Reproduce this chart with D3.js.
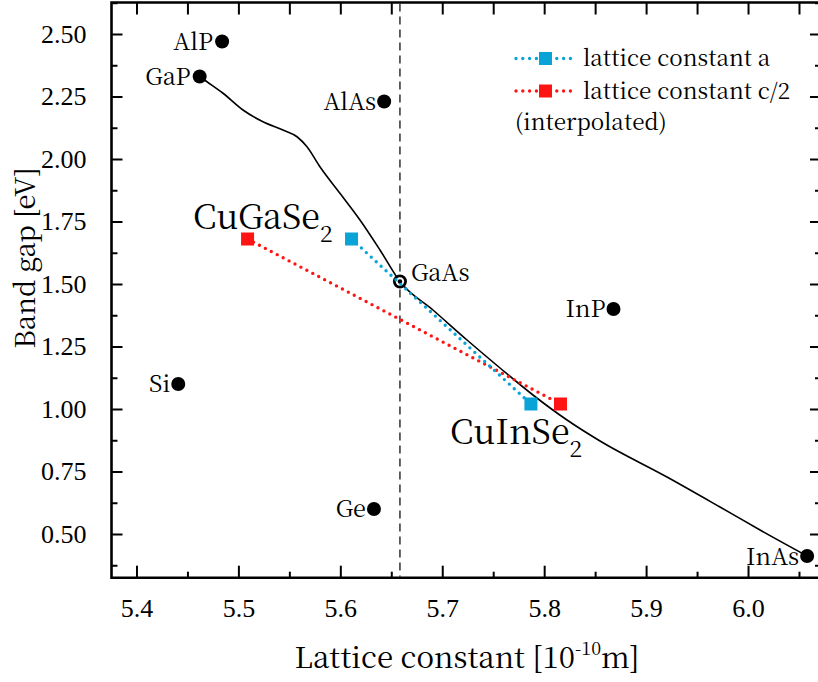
<!DOCTYPE html>
<html><head><meta charset="utf-8">
<script src="https://cdn.jsdelivr.net/npm/d3@7"></script>
</head>
<body style="margin:0;background:#fff"><svg id="chart" width="818" height="682" style="display:block;background:#fff"></svg>
<script>
// ---- data ----
const compounds = ["AlP","GaP","AlAs","GaAs","InP","Si","Ge","InAs"];
const compoundLattice = [5.484,5.462,5.643,5.6585,5.868,5.441,5.633,6.058];
const compoundGap = [2.47,2.33,2.23,1.51,1.40,1.10,0.60,0.412];

const curveLattice = [5.4623,5.4692,5.4849,5.5045,5.5241,5.5437,5.5575,5.5673,5.5800,5.5996,5.6193,5.6389,5.6585,
  5.6909,5.7243,5.7567,5.789,5.8224,5.8548,5.9205,5.9725,6.0118,6.058];
const curveGap = [2.329,2.309,2.263,2.196,2.149,2.116,2.089,2.049,1.969,1.863,1.756,1.636,1.51,
  1.396,1.276,1.164,1.056,0.956,0.872,0.728,0.608,0.516,0.412];

const chalcopyrites = ["CuGaSe","CuInSe"];
const latticeA = [5.611,5.787];
const latticeHalfC = [5.509,5.816];
const chalcoGap = [1.68,1.02];

const xTicks = [5.4,5.5,5.6,5.7,5.8,5.9,6.0];
const yTicks = [0.50,0.75,1.00,1.25,1.50,1.75,2.00,2.25,2.50];
const legendLabels = ["lattice constant a","lattice constant c/2","(interpolated)"];
const gaAsLattice = 5.6585;

// ---- layout ----
const FONT = '"Noto Serif CJK SC","Liberation Serif",serif';
const TICKFONT = '"Liberation Serif","Noto Serif CJK SC",serif';
const svg = d3.select("#chart");
const x = d3.scaleLinear().domain([5.3755,6.0716]).range([111.5,821]);
const y = d3.scaleLinear().domain([0.3252,2.626]).range([577.7,2.5]);
const blue = "#0aa3d8", red = "#ff1414";

const axisW = 2.6;
function styleAxis(g){ g.attr("font-family",null); g.select(".domain").remove(); g.selectAll("line").attr("stroke","#000").attr("stroke-width",2); }

const xMinor = d3.range(5.40,6.0701,0.05).map(v=>+v.toFixed(2)).filter(v=>!xTicks.some(t=>Math.abs(t-v)<1e-6));
const yMinor = d3.range(0.375,2.626,0.25).map(v=>+v.toFixed(3));

// bottom
const gb = svg.append("g").attr("transform",`translate(0,${y.range()[0]})`);
gb.call(d3.axisBottom(x).tickValues(xTicks).tickSize(-12).tickFormat(d3.format(".1f")).tickPadding(21)).call(styleAxis);
gb.append("g").call(d3.axisBottom(x).tickValues(xMinor).tickSize(-6).tickFormat("")).call(styleAxis);
// top
const gt = svg.append("g").attr("transform",`translate(0,${y.range()[1]})`);
gt.call(d3.axisTop(x).tickValues(xTicks.concat(xMinor)).tickSize(-12).tickFormat("")).call(styleAxis);
// left
const gl = svg.append("g").attr("transform",`translate(${x.range()[0]},0)`);
gl.call(d3.axisLeft(y).tickValues(yTicks).tickSize(-11).tickFormat(d3.format(".2f")).tickPadding(25)).call(styleAxis);
gl.append("g").call(d3.axisLeft(y).tickValues(yMinor).tickSize(-6).tickFormat("")).call(styleAxis);
// right
const gr = svg.append("g").attr("transform",`translate(${x.range()[1]},0)`);
gr.call(d3.axisRight(y).tickValues(yTicks).tickSize(-11).tickFormat("")).call(styleAxis);
gr.append("g").call(d3.axisRight(y).tickValues(yMinor).tickSize(-6).tickFormat("")).call(styleAxis);

const [x0,x1] = x.range(), [y0,y1] = y.range();
svg.append("path").attr("d",`M${x1},${y1}H${x0}V${y0}H${x1}V${y1}`).attr("fill","none").attr("stroke","#000").attr("stroke-width",axisW);

// dashed GaAs line
svg.append("line").attr("x1",x(gaAsLattice)).attr("x2",x(gaAsLattice)).attr("y1",y1+1).attr("y2",y0-1)
  .attr("stroke","#222").attr("stroke-width",1.4).attr("stroke-dasharray","8,5");

// curve
svg.append("path").datum(d3.zip(curveLattice,curveGap))
  .attr("d",d3.line().x(d=>x(d[0])).y(d=>y(d[1])).curve(d3.curveMonotoneX))
  .attr("fill","none").attr("stroke","#000").attr("stroke-width",1.6);

// compound dots
compounds.forEach((c,i)=>{
  const cx=x(compoundLattice[i]), cy=y(compoundGap[i]);
  svg.append("circle").attr("cx",cx).attr("cy",cy).attr("r",7).attr("fill","#000");
  if(c==="GaAs"){
    svg.append("circle").attr("cx",cx).attr("cy",cy).attr("r",4.2).attr("fill","#fff");
    svg.append("circle").attr("cx",cx).attr("cy",cy).attr("r",2.3).attr("fill","#000");
  }
});
const labelOff = {AlP:[-9,8],GaP:[-9,8.5],AlAs:[-8,8.5],GaAs:[11,-1],InP:[-8,8],Si:[-8,8],Ge:[-8,8],InAs:[-8,9]};
compounds.forEach((c,i)=>{
  const o = labelOff[c];
  svg.append("text").attr("x",x(compoundLattice[i])+o[0]).attr("y",y(compoundGap[i])+o[1])
    .attr("text-anchor",o[0]<0?"end":"start").attr("font-size",23.5).text(c);
});

// series
const dotted = d3.line().x(d=>x(d[0])).y(d=>y(d[1]));
function series(xs,color){
  const pts = d3.zip(xs,chalcoGap);
  svg.append("path").datum(pts).attr("d",dotted).attr("fill","none").attr("stroke",color)
    .attr("stroke-width",3.4).attr("stroke-linecap","round").attr("stroke-dasharray","0,6.7");
  pts.forEach(p=>svg.append("rect").attr("x",x(p[0])-6.5).attr("y",y(p[1])-6.5).attr("width",13).attr("height",13).attr("fill",color));
}
series(latticeHalfC,red);
series(latticeA,blue);

// big labels
const bigPos = [[193,229],[450,444]];
chalcopyrites.forEach((c,i)=>{
  const t = svg.append("text").attr("x",bigPos[i][0]).attr("y",bigPos[i][1]).attr("font-size",34);
  t.append("tspan").text(c);
  t.append("tspan").attr("font-size",23).attr("dy",13).text("2");
});

// legend
const lg = svg.append("g");
[[blue,58.5],[red,91]].forEach(([col,ly],i)=>{
  lg.append("line").attr("x1",516).attr("x2",571).attr("y1",ly).attr("y2",ly).attr("stroke",col)
    .attr("stroke-width",3.4).attr("stroke-linecap","round").attr("stroke-dasharray","0,6.8");
  lg.append("rect").attr("x",539).attr("y",ly-6.5).attr("width",13).attr("height",13).attr("fill",col);
  lg.append("text").attr("x",583).attr("y",ly+7.5).attr("font-size",22.5).text(legendLabels[i]);
});
lg.append("text").attr("x",515).attr("y",130).attr("font-size",22.5).text(legendLabels[2]);

// axis titles
svg.append("text").attr("transform","translate(35,258) rotate(-90)").attr("text-anchor","middle")
  .attr("font-size",27.5).text("Band gap [eV]");
const xt = svg.append("text").attr("x",467).attr("y",668).attr("text-anchor","middle").attr("font-size",29.5);
xt.append("tspan").text("Lattice constant [10");
xt.append("tspan").attr("font-size",18).attr("dy",-13).text("-10");
xt.append("tspan").attr("dy",13).text("m]");

svg.selectAll("text").style("font-family",FONT).attr("fill","#000");
gb.selectAll("text").attr("font-size",26).style("font-family",TICKFONT);
gl.selectAll("text").attr("font-size",26).style("font-family",TICKFONT);
</script></body></html>
